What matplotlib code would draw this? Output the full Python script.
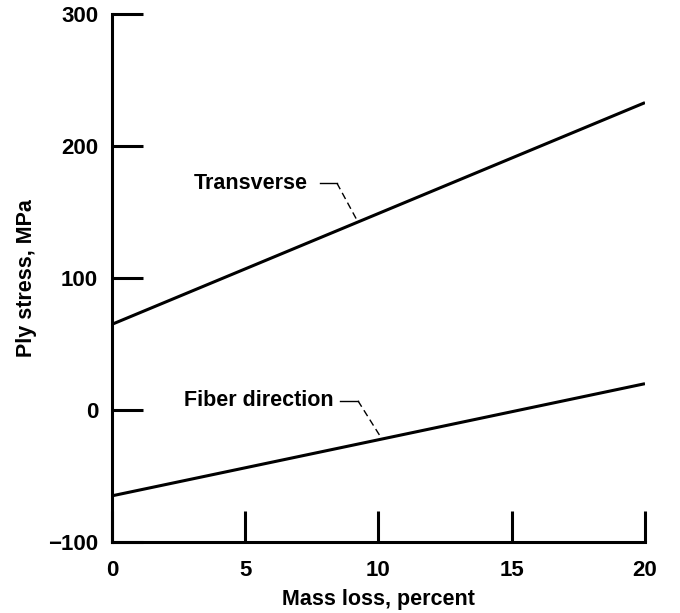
import numpy as np
import matplotlib
matplotlib.use("Agg")
import matplotlib.pyplot as plt

plt.rcParams['font.family'] = ['Liberation Sans', 'DejaVu Sans']
plt.rcParams['font.weight'] = 'bold'

mass_loss = [0, 20]
transverse = [65, 233]
fiber = [-65, 20]

x_ticks = [0, 5, 10, 15, 20]
y_ticks = [-100, 0, 100, 200, 300]

fig = plt.figure(figsize=(6.8, 6.13), dpi=100)
ax = fig.add_axes([0.1647, 0.1158, 0.7838, 0.861])

ax.plot(mass_loss, transverse, color='black', lw=2.2, solid_capstyle='butt')
ax.plot(mass_loss, fiber, color='black', lw=2.2, solid_capstyle='butt')

ax.set_xlim(0, 20)
ax.set_ylim(-100, 300)
ax.set_xticks(x_ticks)
ax.set_yticks(y_ticks)
ax.set_xticklabels([str(t) for t in x_ticks])
ax.set_yticklabels([str(t).replace('-', '\u2212') for t in y_ticks])

for s in ['top', 'right']:
    ax.spines[s].set_visible(False)
for s in ['left', 'bottom']:
    ax.spines[s].set_linewidth(2.2)

ax.tick_params(axis='both', direction='in', length=22, width=2.2, labelsize=16)
ax.tick_params(axis='y', pad=10)
ax.tick_params(axis='x', pad=13)

ax.set_xlabel('Mass loss, percent', fontsize=15.5, fontweight='bold', labelpad=6)
ax.set_ylabel('Ply stress, MPa', fontsize=15.5, fontweight='bold', labelpad=8)


def line_at(xs, ys, x):
    return np.interp(x, xs, ys)


# labels with leader lines: text, text pos, leader start x, knee x, point x on line
labels = [
    ('Transverse', (5.2, 172), 7.8, 8.44, 9.23, transverse),
    ('Fiber direction', (5.5, 7), 8.56, 9.23, 10.13, fiber),
]
for text, (tx, ty), sx, kx, px, ys in labels:
    ax.text(tx, ty, text, ha='center', va='center', fontsize=15.5, fontweight='bold')
    ax.plot([sx, kx], [ty, ty], color='black', lw=1.0)
    ax.plot([kx, px], [ty, line_at(mass_loss, ys, px)], color='black', lw=1.0,
            dashes=(5, 3))

fig.savefig('out.png', dpi=100)
